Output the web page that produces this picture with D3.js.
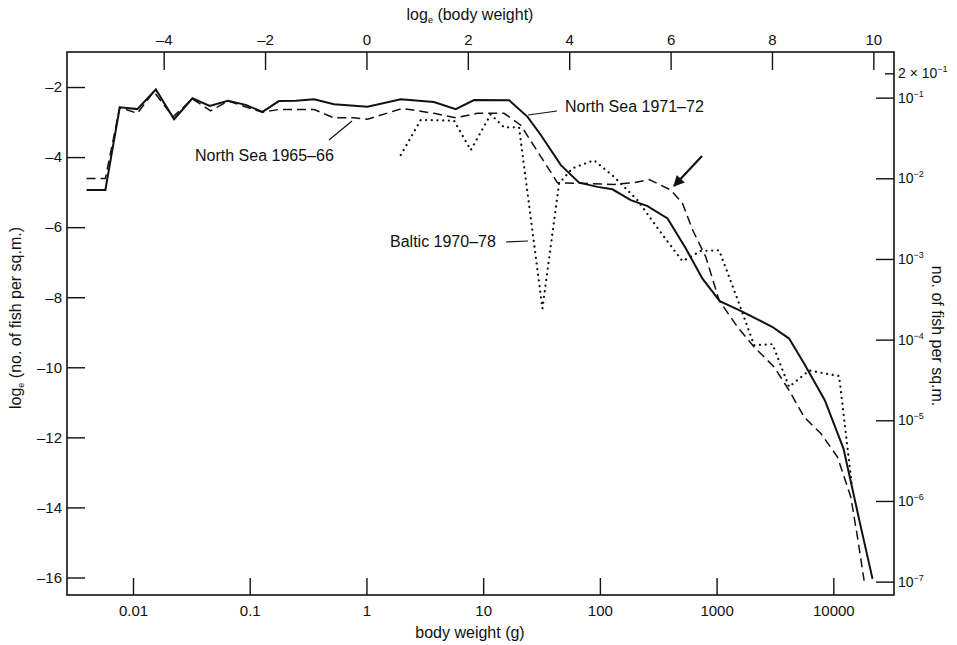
<!DOCTYPE html>
<html>
<head>
<meta charset="utf-8">
<script src="https://cdn.jsdelivr.net/npm/d3@7"></script>
<style>
  body { margin: 0; background: #fff; }
  text { font-family: "Liberation Sans", Arial, sans-serif; fill: #111; }
</style>
</head>
<body>
<div id="chart"></div>
<script>
// body weight (g) vs log_e(no. of fish per sq.m.)

// North Sea 1971-72 (solid)
var ns7172Weight = [0.004, 0.0058, 0.0077, 0.0109, 0.0157, 0.0225, 0.0323, 0.0454, 0.0652, 0.0924,
  0.1285, 0.178, 0.248, 0.356, 0.527, 1.02, 1.97, 3.79, 5.82, 8.36, 16.7, 24.0, 31.2, 46.3,
  66.4, 95.4, 128, 184, 256, 380, 545, 757, 1065, 1559, 3013, 4180, 5620, 8450, 12220, 16970, 21670];
var ns7172Value = [-4.94, -4.94, -2.58, -2.63, -2.07, -2.92, -2.32, -2.54, -2.39, -2.51,
  -2.71, -2.40, -2.39, -2.35, -2.49, -2.56, -2.35, -2.43, -2.63, -2.37, -2.38, -2.85, -3.37, -4.23,
  -4.73, -4.85, -4.92, -5.23, -5.40, -5.75, -6.61, -7.47, -8.11, -8.37, -8.85, -9.18, -9.89, -10.94, -12.32, -14.47, -16.04];

// North Sea 1965-66 (dashed)
var ns6566Weight = [0.004, 0.0058, 0.0077, 0.0109, 0.0151, 0.0220, 0.0323, 0.0463, 0.0652, 0.1285,
  0.178, 0.356, 0.527, 0.783, 1.02, 2.03, 3.79, 5.82, 8.94, 15.1, 21.0, 43.3, 132, 196, 264,
  405, 510, 625, 808, 1051, 1510, 2096, 3110, 4180, 5620, 7820, 10860, 14130, 16110, 18360];
var ns6566Value = [-4.61, -4.61, -2.58, -2.75, -2.13, -2.85, -2.34, -2.68, -2.40, -2.72,
  -2.64, -2.64, -2.88, -2.88, -2.92, -2.61, -2.75, -2.88, -2.75, -2.75, -3.09, -4.73, -4.78, -4.73, -4.64,
  -4.94, -5.32, -6.09, -6.85, -8.09, -8.85, -9.42, -9.99, -10.66, -11.42, -11.89, -12.56, -13.71, -14.85, -16.09];

// Baltic 1970-78 (dotted)
var balticWeight = [1.97, 2.92, 5.63, 7.83, 11.6, 15.1, 20.3, 32.2, 44.7, 58.2, 89.1, 132, 210,
  355, 510, 733, 1051, 1559, 2096, 3013, 4180, 6210, 11210, 14420];
var balticValue = [-3.94, -2.94, -2.96, -3.80, -2.78, -3.15, -3.15, -8.32, -4.75, -4.32, -4.09, -4.56, -5.23,
  -6.28, -6.97, -6.68, -6.66, -8.18, -9.37, -9.34, -10.56, -10.09, -10.25, -13.37];

// axis ticks
var bottomTicks = [0.01, 0.1, 1, 10, 100, 1000, 10000];
var topTicks = [-4, -2, 0, 2, 4, 6, 8, 10];
var leftTicks = [-2, -4, -6, -8, -10, -12, -14, -16];
var rightTicks = [0.2, 1e-1, 1e-2, 1e-3, 1e-4, 1e-5, 1e-6, 1e-7];
var rightTickLabels = [["2 \u00d7 10", "\u22121"], ["10", "\u22121"], ["10", "\u22122"], ["10", "\u22123"],
  ["10", "\u22124"], ["10", "\u22125"], ["10", "\u22126"], ["10", "\u22127"]];

var svgWidth = 957, svgHeight = 645;
var margin = { top: 52, right: 63, bottom: 50, left: 67 };
var width = svgWidth - margin.left - margin.right;
var height = svgHeight - margin.top - margin.bottom;

var svg = d3.select("#chart").append("svg")
  .attr("width", svgWidth)
  .attr("height", svgHeight);

var g = svg.append("g")
  .attr("transform", `translate(${margin.left},${margin.top})`);

var x = d3.scaleLog().domain([0.00272, 33100]).range([0, width]);
var xTop = d3.scaleLinear().domain(x.domain().map(Math.log)).range([0, width]);
var y = d3.scaleLinear().domain([-16.5, -1]).range([height, 0]);

var dashFmt = d => d < 0 ? "\u2013" + Math.abs(d) : String(d);

// frame
g.append("rect")
  .attr("width", width).attr("height", height)
  .attr("fill", "none").attr("stroke", "#111").attr("stroke-width", 1.6);

function styleAxis(sel) {
  sel.select(".domain").remove();
  sel.selectAll(".tick line").attr("stroke", "#111").attr("stroke-width", 1.4);
  sel.selectAll(".tick text").attr("font-size", 15).attr("fill", "#111")
    .style("font-family", "'Liberation Sans', Arial, sans-serif");
}

g.append("g")
  .attr("transform", `translate(0,${height})`)
  .call(d3.axisBottom(x).tickValues(bottomTicks).tickFormat(d => String(d))
    .tickSize(-17).tickPadding(10))
  .call(styleAxis);

g.append("g")
  .call(d3.axisTop(xTop).tickValues(topTicks).tickFormat(dashFmt)
    .tickSize(-18).tickPadding(7))
  .call(styleAxis);

g.append("g")
  .call(d3.axisLeft(y).tickValues(leftTicks).tickFormat(dashFmt)
    .tickSize(-18).tickPadding(5))
  .call(styleAxis);

var rightAxis = g.append("g")
  .attr("transform", `translate(${width},0)`)
  .call(d3.axisRight(y).tickValues(rightTicks.map(Math.log)).tickSize(-18).tickPadding(4))
  .call(styleAxis);

rightAxis.selectAll(".tick line").attr("x2", (d, i) => i === 0 ? -9 : -18);
rightAxis.selectAll(".tick text").each(function (d, i) {
  var t = d3.select(this).text(null).attr("font-size", 14);
  t.append("tspan").text(rightTickLabels[i][0]);
  t.append("tspan").attr("font-size", 9).attr("dy", -6).text(rightTickLabels[i][1]);
});

// lines
var line = d3.line().x(d => x(d[0])).y(d => y(d[1]));

g.append("path")
  .datum(d3.zip(ns6566Weight, ns6566Value))
  .attr("d", line).attr("fill", "none").attr("stroke", "#111")
  .attr("stroke-width", 1.5).attr("stroke-dasharray", "9,5");

g.append("path")
  .datum(d3.zip(balticWeight, balticValue))
  .attr("d", line).attr("fill", "none").attr("stroke", "#111")
  .attr("stroke-width", 2.2).attr("stroke-linecap", "round").attr("stroke-dasharray", "0.1,5.6");

g.append("path")
  .datum(d3.zip(ns7172Weight, ns7172Value))
  .attr("d", line).attr("fill", "none").attr("stroke", "#111")
  .attr("stroke-width", 2);

// axis titles
svg.append("text")
  .attr("x", 470).attr("y", 20).attr("text-anchor", "middle").attr("font-size", 16)
  .call(t => {
    t.append("tspan").text("log");
    t.append("tspan").attr("font-size", 9).attr("dy", 3).text("e");
    t.append("tspan").attr("dy", -3).text(" (body weight)");
  });

svg.append("text")
  .attr("x", 470).attr("y", 638).attr("text-anchor", "middle").attr("font-size", 16)
  .text("body weight (g)");

svg.append("text")
  .attr("transform", "translate(21,318) rotate(-90)")
  .attr("text-anchor", "middle").attr("font-size", 16)
  .call(t => {
    t.append("tspan").text("log");
    t.append("tspan").attr("font-size", 9).attr("dy", 3).text("e");
    t.append("tspan").attr("dy", -3).text(" (no. of fish per sq.m.)");
  });

svg.append("text")
  .attr("transform", "translate(932,336) rotate(90)")
  .attr("text-anchor", "middle").attr("font-size", 16)
  .text("no. of fish per sq.m.");

// annotations
var notes = [
  { label: "North Sea 1971\u201372", tx: 565, ty: 112, lx1: 528, ly1: 115, lx2: 557, ly2: 111 },
  { label: "North Sea 1965\u201366", tx: 195, ty: 161, lx1: 329, ly1: 140, lx2: 352, ly2: 121 },
  { label: "Baltic 1970\u201378", tx: 390, ty: 247, lx1: 506, ly1: 242, lx2: 528, ly2: 241 }
];
notes.forEach(n => {
  svg.append("text").attr("x", n.tx).attr("y", n.ty).attr("font-size", 16).text(n.label);
  svg.append("line").attr("x1", n.lx1).attr("y1", n.ly1).attr("x2", n.lx2).attr("y2", n.ly2)
    .attr("stroke", "#111").attr("stroke-width", 1.2);
});

svg.append("defs").append("marker")
  .attr("id", "head").attr("viewBox", "0 0 10 10").attr("refX", 9).attr("refY", 5)
  .attr("markerWidth", 6).attr("markerHeight", 5).attr("orient", "auto")
  .append("path").attr("d", "M0,0 L10,5 L0,10 z").attr("fill", "#111");

svg.append("line")
  .attr("x1", 702).attr("y1", 156).attr("x2", 674).attr("y2", 186)
  .attr("stroke", "#111").attr("stroke-width", 2.2).attr("marker-end", "url(#head)");
</script>
</body>
</html>
